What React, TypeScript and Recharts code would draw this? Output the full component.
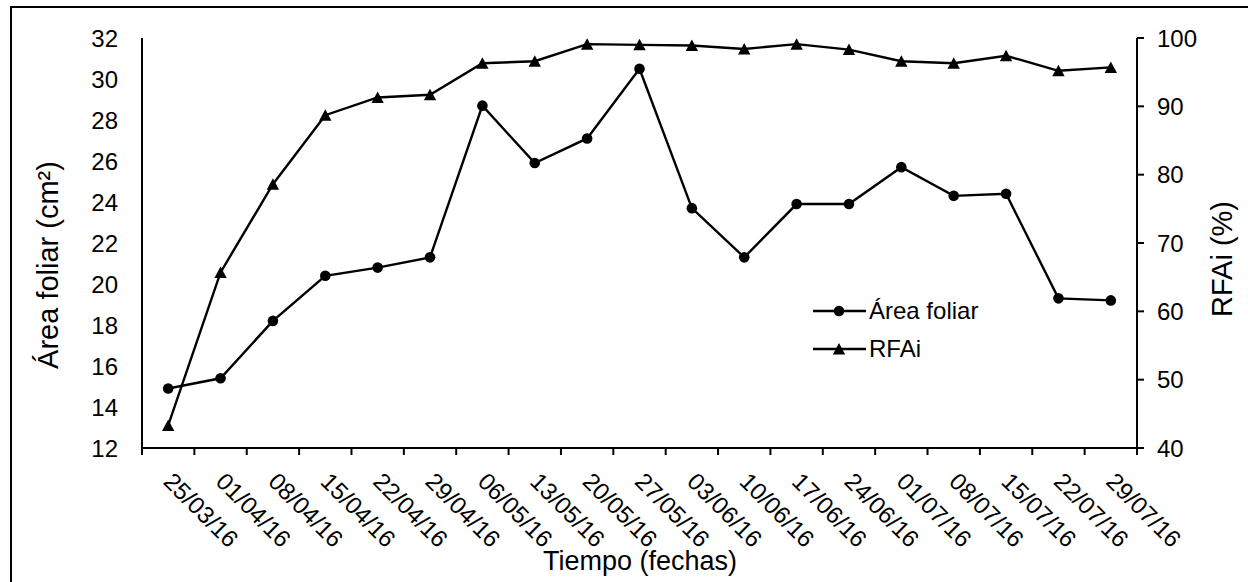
import React from "react";
import { ComposedChart, Line, XAxis, YAxis } from "recharts";

// fechas de muestreo (semanal)
const fechas = [
  "25/03/16", "01/04/16", "08/04/16", "15/04/16", "22/04/16", "29/04/16", "06/05/16",
  "13/05/16", "20/05/16", "27/05/16", "03/06/16", "10/06/16", "17/06/16", "24/06/16",
  "01/07/16", "08/07/16", "15/07/16", "22/07/16", "29/07/16",
];
const areaFoliar = [14.9, 15.4, 18.2, 20.4, 20.8, 21.3, 28.7, 25.9, 27.1, 30.5, 23.7, 21.3, 23.9, 23.9, 25.7, 24.3, 24.4, 19.3, 19.2];
const rfai = [43.3, 65.7, 78.6, 88.7, 91.3, 91.7, 96.3, 96.6, 99.1, 99.0, 98.9, 98.4, 99.1, 98.3, 96.6, 96.3, 97.4, 95.2, 95.7];
const ticksArea = [12, 14, 16, 18, 20, 22, 24, 26, 28, 30, 32];
const ticksRfai = [40, 50, 60, 70, 80, 90, 100];

const data = fechas.map((f, i) => ({ fecha: f, area: areaFoliar[i], rfai: rfai[i] }));

const FONT = "'Liberation Sans', Arial, sans-serif";
const W = 1248;
const H = 582;
const LEFT_W = 142;
const RIGHT_W = 111;
const BW = (W - LEFT_W - RIGHT_W) / fechas.length; // ancho de cada categoría

function Circulo({ cx, cy }: any) {
  if (cx == null || cy == null) return null;
  return <circle cx={cx} cy={cy} r={5.3} fill="#000" />;
}

function Triangulo({ cx, cy }: any) {
  if (cx == null || cy == null) return null;
  return <path d={`M${cx},${cy - 6} L${cx + 6.2},${cy + 5.5} L${cx - 6.2},${cy + 5.5} Z`} fill="#000" />;
}

// marcas entre categorías + etiqueta girada 45°
function FechaTick({ x, y, payload, index }: any) {
  const tx = x - 6;
  const ty = y + 35;
  return (
    <g>
      <line x1={x - BW / 2} y1={y} x2={x - BW / 2} y2={y + 7} stroke="#000" strokeWidth={2} />
      {index === fechas.length - 1 && (
        <line x1={x + BW / 2} y1={y} x2={x + BW / 2} y2={y + 7} stroke="#000" strokeWidth={2} />
      )}
      <text x={tx} y={ty} transform={`rotate(45, ${tx}, ${ty})`} fontSize={24} fontFamily={FONT} fill="#000">
        {payload.value}
      </text>
    </g>
  );
}

function Leyenda() {
  const row = (label: string, tri: boolean) => (
    <div style={{ display: "flex", alignItems: "center", height: 38 }}>
      <svg width={56} height={20}>
        <line x1={0} y1={10} x2={53} y2={10} stroke="#000" strokeWidth={2.4} />
        {tri ? <Triangulo cx={26} cy={10} /> : <Circulo cx={26} cy={10} />}
      </svg>
      <span style={{ fontSize: 24, fontFamily: FONT, color: "#000" }}>{label}</span>
    </div>
  );
  return (
    <div style={{ position: "absolute", left: 813, top: 292 }}>
      {row("Área foliar", false)}
      {row("RFAi", true)}
    </div>
  );
}

export default function App() {
  return (
    <div style={{ position: "absolute", left: 0, top: 0, width: W, height: H, overflow: "hidden", background: "#fff" }}>
      <div
        style={{
          position: "absolute",
          left: 10,
          top: 6,
          width: 2000,
          height: 2000,
          border: "2px solid #000",
          boxSizing: "border-box",
        }}
      />
      <div style={{ position: "absolute", left: 0, top: 0 }}>
        <ComposedChart width={W} height={H} data={data} margin={{ top: 38, right: 0, bottom: 0, left: 0 }}>
          <XAxis
            dataKey="fecha"
            scale="band"
            height={134}
            interval={0}
            tickLine={false}
            tickSize={0}
            tickMargin={0}
            axisLine={{ stroke: "#000", strokeWidth: 2 }}
            tick={<FechaTick />}
          />
          <YAxis
            yAxisId="left"
            width={LEFT_W}
            domain={[12, 32]}
            ticks={ticksArea}
            interval={0}
            tickLine={false}
            tickSize={0}
            tickMargin={24}
            axisLine={{ stroke: "#000", strokeWidth: 2 }}
            tick={{ fontSize: 24, fill: "#000", fontFamily: FONT }}
          />
          <YAxis
            yAxisId="right"
            orientation="right"
            width={RIGHT_W}
            domain={[40, 100]}
            ticks={ticksRfai}
            interval={0}
            tickSize={7}
            tickMargin={13}
            tickLine={{ stroke: "#000", strokeWidth: 2 }}
            axisLine={{ stroke: "#000", strokeWidth: 2 }}
            tick={{ fontSize: 24, fill: "#000", fontFamily: FONT }}
          />
          <Line
            yAxisId="left"
            dataKey="area"
            type="linear"
            stroke="#000"
            strokeWidth={2.4}
            dot={<Circulo />}
            activeDot={false}
            isAnimationActive={false}
          />
          <Line
            yAxisId="right"
            dataKey="rfai"
            type="linear"
            stroke="#000"
            strokeWidth={2.4}
            dot={<Triangulo />}
            activeDot={false}
            isAnimationActive={false}
          />
          <text x={48} y={265} transform="rotate(-90, 48, 265)" textAnchor="middle" dominantBaseline="central" fontSize={29} fontFamily={FONT} fill="#000">
            Área foliar (cm²)
          </text>
          <text x={1222} y={259} transform="rotate(-90, 1222, 259)" textAnchor="middle" dominantBaseline="central" fontSize={29} fontFamily={FONT} fill="#000">
            RFAi (%)
          </text>
          <text x={640} y={570} textAnchor="middle" fontSize={27} fontFamily={FONT} fill="#000">
            Tiempo (fechas)
          </text>
        </ComposedChart>
      </div>
      <Leyenda />
    </div>
  );
}
